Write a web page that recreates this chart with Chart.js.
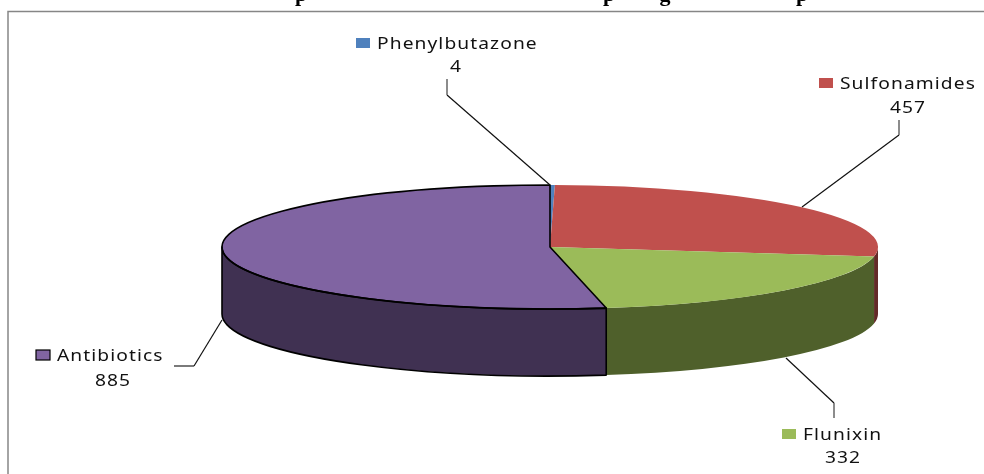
<!DOCTYPE html>
<html>
<head>
<meta charset="utf-8">
<style>html,body{margin:0;padding:0;background:#fff}canvas{display:block}</style>
<script src="https://cdn.jsdelivr.net/npm/chart.js@4"></script>
</head>
<body>
<canvas id="c" width="984" height="474"></canvas>
<script>
const categories = ['Phenylbutazone', 'Sulfonamides', 'Flunixin', 'Antibiotics'];
const values = [4, 457, 332, 885];
const topColors = ['#4F81BD', '#C0504D', '#9BBB59', '#8064A2'];
const wallColors = ['#2A4A73', '#632A28', '#4F602B', '#403152'];
const labelSpots = [
  {mx:356, my:38, tx:377, ty:49, vx:456, vy:72, stub:[[447,79],[447,95]], line:[[447,95],[550,185]]},
  {mx:819, my:78, tx:840, ty:89, vx:908, vy:113, stub:[[899,120],[899,135]], line:[[899,135],[802,207]]},
  {mx:782, my:429, tx:803, ty:440, vx:843, vy:463, stub:[[834,418],[834,403]], line:[[834,403],[786,358]]},
  {mx:36, my:350, tx:57, ty:361, vx:113, vy:386, stub:[[174,366],[194,366]], line:[[194,366],[222,320]]}
];
const titleGlyphs = [['p',301],['p',609],['g',665],['p',802]];
const CX = 550, CY = 247, RX = 328, RY = 62, DEPTH = 67, STRETCH = 1.2;

function stretchedText(ctx, text, x, y, align) {
  const w = ctx.measureText(text).width * STRETCH;
  ctx.save();
  ctx.translate(align === 'center' ? x - w / 2 : x, y);
  ctx.scale(STRETCH, 1);
  ctx.textAlign = 'left';
  ctx.fillText(text, 0, 0);
  ctx.restore();
}

const tiltPlugin = {
  id: 'tilt',
  beforeDraw(chart) {
    const ctx = chart.ctx;
    ctx.save();
    ctx.strokeStyle = '#868686';
    ctx.lineWidth = 1.5;
    ctx.beginPath();
    ctx.moveTo(8, 474); ctx.lineTo(8, 11.5); ctx.lineTo(984, 11.5);
    ctx.stroke();
    ctx.fillStyle = '#000';
    ctx.font = 'bold 22px "Liberation Serif"';
    ctx.textAlign = 'center';
    ctx.textBaseline = 'alphabetic';
    titleGlyphs.forEach(g => ctx.fillText(g[0], g[1], 0.5));
    ctx.restore();
  },
  beforeDatasetsDraw(chart) {
    const ctx = chart.ctx;
    const arcs = chart.getDatasetMeta(0).data;
    arcs.forEach((a, i) => {
      const s = Math.max(0, a.startAngle), e = Math.min(Math.PI, a.endAngle);
      if (e <= s) return;
      ctx.save();
      ctx.fillStyle = wallColors[i];
      ctx.beginPath();
      ctx.ellipse(CX, CY, RX, RY, 0, s, e);
      ctx.ellipse(CX, CY + DEPTH, RX, RY, 0, e, s, true);
      ctx.closePath();
      ctx.fill();
      ctx.restore();
    });
    const a0 = arcs[0];
    ctx.save();
    ctx.translate(CX, CY);
    ctx.scale(RX / a0.outerRadius, RY / a0.outerRadius);
    ctx.translate(-a0.x, -a0.y);
  },
  afterDatasetsDraw(chart) {
    const ctx = chart.ctx;
    ctx.restore();
    const arcs = chart.getDatasetMeta(0).data;
    const big = arcs[arcs.length - 1];
    ctx.save();
    ctx.strokeStyle = '#000';
    ctx.lineWidth = 1.6;
    ctx.lineJoin = 'round';
    ctx.beginPath();
    ctx.moveTo(CX, CY);
    ctx.ellipse(CX, CY, RX, RY, 0, big.startAngle, big.endAngle);
    ctx.closePath();
    ctx.stroke();
    const s = Math.max(0, big.startAngle), e = Math.min(Math.PI, big.endAngle);
    ctx.beginPath();
    ctx.ellipse(CX, CY, RX, RY, 0, e, s, true);
    ctx.ellipse(CX, CY + DEPTH, RX, RY, 0, s, e);
    ctx.closePath();
    ctx.stroke();
    ctx.restore();
  },
  afterDraw(chart) {
    const ctx = chart.ctx;
    ctx.save();
    ctx.font = '16px "Noto Sans"';
    ctx.letterSpacing = '0.9px';
    ctx.textBaseline = 'alphabetic';
    categories.forEach((name, i) => {
      const p = labelSpots[i];
      ctx.strokeStyle = '#111';
      ctx.lineWidth = 1.2;
      ctx.beginPath();
      p.line.forEach((q, k) => k ? ctx.lineTo(q[0], q[1]) : ctx.moveTo(q[0], q[1]));
      ctx.stroke();
      ctx.strokeStyle = i === 3 ? '#222' : '#666';
      ctx.lineWidth = i === 3 ? 1.2 : 1.5;
      ctx.beginPath();
      p.stub.forEach((q, k) => k ? ctx.lineTo(q[0], q[1]) : ctx.moveTo(q[0], q[1]));
      ctx.stroke();
      ctx.fillStyle = topColors[i];
      ctx.fillRect(p.mx, p.my, 14, 10);
      if (i === 3) { ctx.strokeStyle = '#000'; ctx.lineWidth = 1.2; ctx.strokeRect(p.mx, p.my, 14, 10); }
      ctx.fillStyle = '#111';
      stretchedText(ctx, name, p.tx, p.ty, 'left');
      stretchedText(ctx, String(values[i]), p.vx, p.vy, 'center');
    });
    ctx.restore();
  }
};

new Chart(document.getElementById('c'), {
  type: 'pie',
  data: {
    labels: categories,
    datasets: [{ data: values, backgroundColor: topColors, borderWidth: 0 }]
  },
  options: {
    responsive: false,
    animation: false,
    layout: { padding: 0 },
    plugins: { legend: { display: false }, tooltip: { enabled: false }, title: { display: false } }
  },
  plugins: [tiltPlugin]
});
</script>
</body>
</html>
